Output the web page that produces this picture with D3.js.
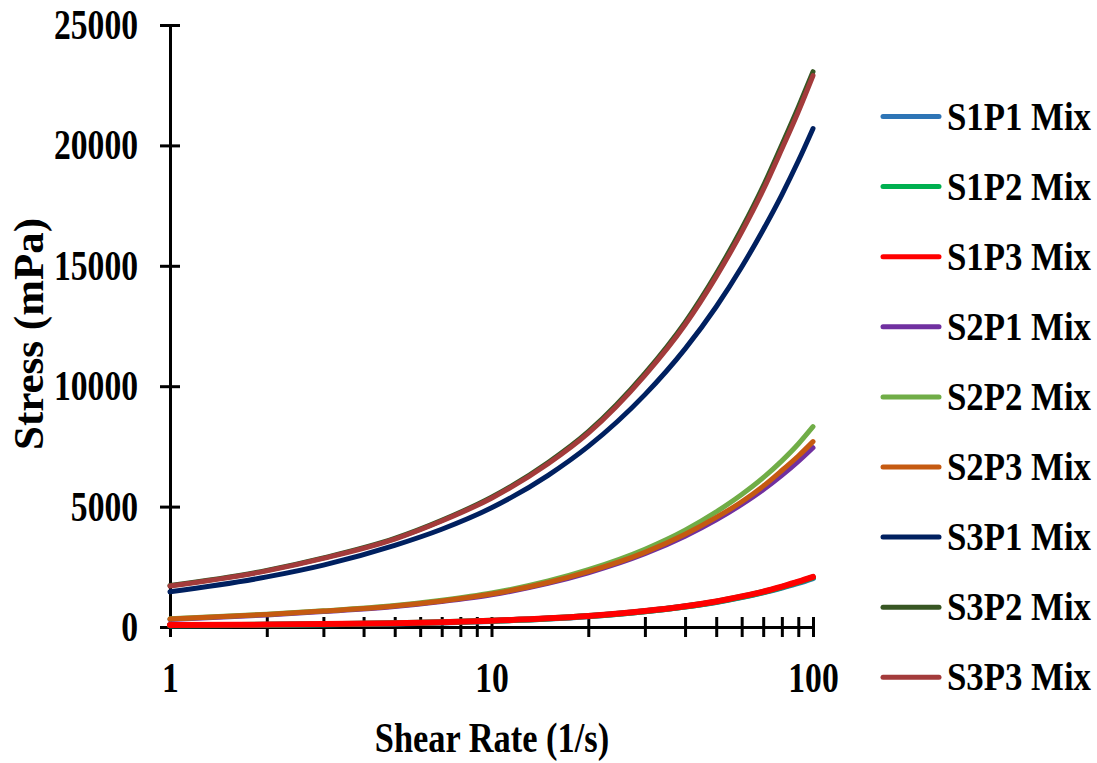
<!DOCTYPE html>
<html lang="en">
<head>
<meta charset="UTF-8">
<title>Stress vs Shear Rate</title>
<script src="https://d3js.org/d3.v7.min.js"></script>
<style>
  body { margin: 0; background: #fff; }
  text { font-family: "Liberation Serif", "Times New Roman", serif; font-weight: bold; fill: #000; }
</style>
</head>
<body>
<script>
// shear rate (1/s)
const shearRate = [1, 2, 3, 5, 7, 10, 15, 20, 30, 40, 50, 60, 70, 80, 90, 100];

// stress (mPa)
const s1p1 = [70, 90, 110, 150, 190, 250, 350, 450, 650, 850, 1040, 1240, 1440, 1640, 1830, 2030];
const s1p2 = [75, 95, 115, 155, 195, 255, 355, 455, 655, 855, 1050, 1255, 1455, 1660, 1860, 2060];
const s1p3 = [80, 100, 120, 160, 200, 260, 360, 460, 660, 860, 1060, 1270, 1470, 1680, 1880, 2080];
const s2p1 = [310, 500, 640, 850, 1060, 1340, 1810, 2250, 3040, 3770, 4450, 5090, 5700, 6300, 6880, 7450];
const s2p2 = [340, 530, 670, 890, 1110, 1410, 1910, 2380, 3230, 4020, 4780, 5500, 6200, 6900, 7600, 8320];
const s2p3 = [330, 520, 660, 870, 1080, 1370, 1850, 2300, 3100, 3850, 4550, 5200, 5850, 6500, 7100, 7700];
const s3p1 = [1460, 2080, 2570, 3390, 4060, 4950, 6300, 7500, 9650, 11550, 13300, 14950, 16500, 17950, 19350, 20700];
const s3p2 = [1720, 2350, 2870, 3680, 4430, 5390, 6830, 8110, 10530, 12650, 14670, 16540, 18310, 20030, 21590, 23060];
const s3p3 = [1700, 2330, 2850, 3650, 4400, 5350, 6780, 8050, 10450, 12550, 14550, 16400, 18150, 19850, 21400, 22900];

const names = ["S1P1 Mix", "S1P2 Mix", "S1P3 Mix", "S2P1 Mix", "S2P2 Mix", "S2P3 Mix", "S3P1 Mix", "S3P2 Mix", "S3P3 Mix"];
const colors = ["#2E75B6", "#00B050", "#FF0000", "#7030A0", "#70AD47", "#C55A11", "#002060", "#375623", "#A33B3B"];
const yTicks = [0, 5000, 10000, 15000, 20000, 25000];
const xLabels = [1, 10, 100];

const series = [s1p1, s1p2, s1p3, s2p1, s2p2, s2p3, s3p1, s3p2, s3p3];

const W = 1097, H = 763;
const svg = d3.select("body").append("svg")
    .attr("width", W)
    .attr("height", H);

const x = d3.scaleLog().domain([1, 100]).range([170, 813]);
const y = d3.scaleLinear().domain([0, 25000]).range([627, 25]);

// squeeze text horizontally round its anchor (the original lettering is narrow)
function squeeze(sel, k) {
    sel.attr("transform", function() {
        const tx = +this.getAttribute("x") || 0;
        return `translate(${tx},0) scale(${k},1) translate(${-tx},0)`;
    });
}

// y axis
const gy = svg.append("g")
    .attr("transform", `translate(${x(1)},0)`)
    .call(d3.axisLeft(y).tickValues(yTicks).tickFormat(d3.format("d"))
        .tickSize(10).tickSizeOuter(0).tickPadding(22));
gy.select(".domain").attr("stroke-width", 3).attr("stroke", "#000");
gy.selectAll(".tick line").attr("x1", 10).attr("x2", -10).attr("stroke-width", 3).attr("stroke", "#000");
gy.selectAll(".tick text").style("font-size", "42px");
gy.selectAll(".tick text").call(squeeze, 0.8);

// x axis, log ticks, labels only on decades
const xTickVals = x.ticks();
const gx = svg.append("g")
    .attr("transform", `translate(0,${y(0)})`)
    .call(d3.axisBottom(x).tickValues(xTickVals).tickSize(10).tickSizeOuter(0).tickPadding(25)
        .tickFormat(d => xLabels.includes(d) ? d : ""));
gx.select(".domain").attr("stroke-width", 3).attr("stroke", "#000");
gx.selectAll(".tick line").attr("y1", -10).attr("y2", 10).attr("stroke-width", 3).attr("stroke", "#000");
gx.selectAll(".tick text").style("font-size", "42px");
gx.selectAll(".tick text").call(squeeze, 0.8);
svg.selectAll(".tick text").attr("font-family", null);

// curves
const line = d3.line()
    .x((d, i) => x(shearRate[i]))
    .y(d => y(d))
    .curve(d3.curveMonotoneX);

svg.append("g")
    .selectAll("path")
    .data(series)
    .join("path")
    .attr("d", line)
    .attr("fill", "none")
    .attr("stroke", (d, i) => colors[i])
    .attr("stroke-width", (d, i) => i < 3 ? 6 : 5)
    .attr("stroke-linecap", "round");

// axis titles
svg.append("text")
    .attr("x", 492)
    .attr("y", 752)
    .attr("text-anchor", "middle")
    .style("font-size", "43px")
    .text("Shear Rate (1/s)")
    .call(squeeze, 0.8);

svg.append("text")
    .attr("transform", `translate(43,${y(12500) + 8}) rotate(-90)`)
    .attr("text-anchor", "middle")
    .style("font-size", "43px")
    .text("Stress (mPa)");

// legend
const legend = svg.append("g")
    .selectAll("g")
    .data(names)
    .join("g")
    .attr("transform", (d, i) => `translate(0,${116.5 + i * 70.1})`);

legend.append("line")
    .attr("x1", 883).attr("x2", 939)
    .attr("stroke", (d, i) => colors[i])
    .attr("stroke-width", 5)
    .attr("stroke-linecap", "round");

legend.append("text")
    .attr("x", 947)
    .attr("y", 13)
    .style("font-size", "40px")
    .text(d => d)
    .call(squeeze, 0.87);
</script>
</body>
</html>
